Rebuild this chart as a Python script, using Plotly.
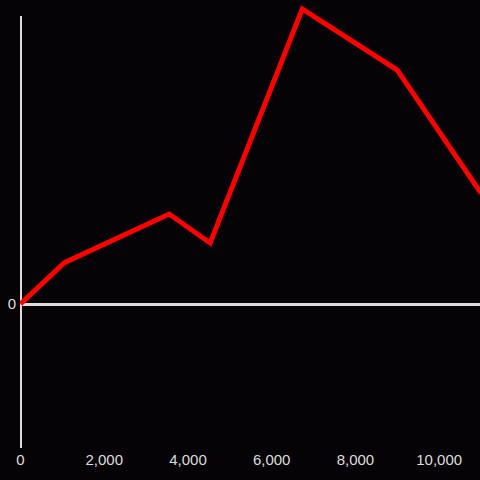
import plotly.graph_objects as go

x_values = [0, 1050, 3550, 4530, 6730, 9000, 11000]
y_values = [0, 14, 30.5, 20.7, 100, 79.3, 37.6]
x_ticks = [0, 2000, 4000, 6000, 8000, 10000]
y_ticks = [0]

bg = "#050305"
axis_col = "#dddddd"

fig = go.Figure()
fig.add_trace(go.Scatter(x=x_values, y=y_values, mode="lines",
                         line=dict(color="#ff0000", width=5), hoverinfo="skip"))

fig.add_shape(type="line", xref="x", yref="y", x0=0, x1=0, y0=-48.8, y1=97.6,
              line=dict(color=axis_col, width=3), layer="below")

fig.update_layout(
    width=480, height=480,
    margin=dict(l=20, r=0, t=0, b=32),
    paper_bgcolor=bg, plot_bgcolor=bg,
    showlegend=False,
    font=dict(family="Liberation Sans, Arial, sans-serif", size=15, color=axis_col),
    xaxis=dict(range=[-12, 10976], tickvals=x_ticks, tickformat=",d",
               showgrid=False, zeroline=False, showline=False, ticks="",
               ticklabelstandoff=1),
    yaxis=dict(range=[-48.8, 103.05], tickvals=y_ticks, showgrid=False,
               zeroline=True, zerolinecolor=axis_col, zerolinewidth=3,
               showline=False, ticks="", ticklabelstandoff=3),
)
fig.write_html("out.html", config={"displayModeBar": False},
               post_script="document.body.style.margin='0';document.body.style.background='%s';" % bg)
